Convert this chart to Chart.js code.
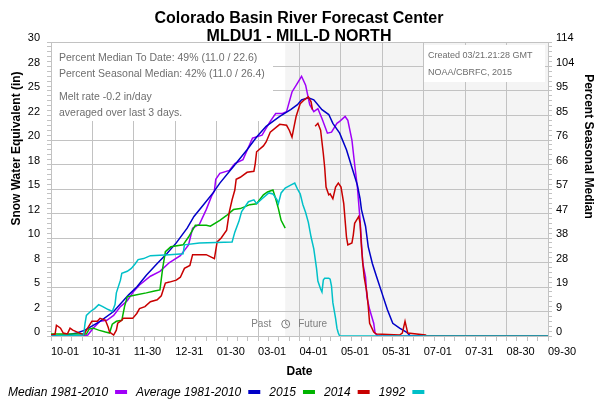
<!DOCTYPE html>
<html>
<head>
<meta charset="utf-8">
<script src="https://cdn.jsdelivr.net/npm/chart.js@4.4.0/dist/chart.umd.min.js"></script>
<style>
html,body{margin:0;padding:0;background:#fff;}
#wrap{width:600px;height:400px;position:relative;}
</style>
</head>
<body>
<div id="wrap"><canvas id="c" width="600" height="400"></canvas></div>
<script>
// ---------- tick labels ----------
const xTickLabels = ['10-01','10-31','11-30','12-31','01-30','03-01','04-01','05-01','05-31','07-01','07-31','08-30','09-30'];
const yTickLabels = ['0','2','5','8','10','12','15','18','20','22','25','28','30'];
const rightTickLabels = ['0','9','19','28','38','47','57','66','76','85','95','104','114'];

// ---------- series (x = day of water year, 0 = Oct 1; y = SWE inches) ----------
const seriesNames = ['Median 1981-2010','Average 1981-2010','2015','2014','1992'];
const seriesColors = ['#a000f8','#0000c8','#00b400','#c80000','#00c0c8'];

const medianDays = [0,24,27,31,36,41,46,51,56,61,65,73,80,87,95,101,104,109,114,118,120,121,124,131,135,141,148,155,161,165,170,173,177,181,184,187,190,193,196,199,203,206,210,212,216,218,221,223,225,226,227,228,229,231,232,234,237,238,240,365];
const medianSWE  = [0,0,0.1,0.8,1.5,1.6,2.1,3.0,3.6,4.6,5.2,6.1,6.6,7.5,8.2,9.3,11.0,11.4,12.9,14.3,14.8,16.0,16.6,16.9,17.6,18.0,20.2,20.5,21.9,22.7,22.7,22.9,24.9,25.8,26.5,25.6,23.6,22.9,23.2,22.2,20.7,20.8,21.7,21.9,22.4,22.0,20.0,17.5,15.2,13.5,11.8,9.5,7.4,6.0,4.0,2.7,1.3,0.3,0,0];

const averageDays = [0,12,19,25,36,46,57,63,70,78,85,92,100,105,112,119,124,134,144,151,158,168,176,181,184,189,193,199,204,207,212,217,221,225,227,228,231,233,236,239,243,247,251,256,261,264,365];
const averageSWE  = [0,0.1,0.3,0.6,1.5,2.5,4.2,5.0,6.2,7.4,8.4,9.5,11.0,12.2,13.4,14.6,15.6,17.3,19.0,20.3,21.4,22.4,23.1,23.6,24.1,24.3,24.1,23.1,22.6,21.7,20.7,19.0,17.2,15.4,14.0,12.9,11.2,9.1,7.4,6.1,4.4,2.7,1.3,0.8,0.4,0,0];

const wy2015Days = [0,26,28,31,35,40,43,45,48,52,54,56,63,70,76,80,82,84,88,97,101,106,114,117,124,129,134,139,146,151,156,159,163,165,167,169,172];
const wy2015SWE  = [0.2,0.2,0.7,0.8,0.6,0.4,0.3,1.2,1.5,1.6,3.0,4.0,4.2,4.4,4.6,4.7,6.9,8.6,9.1,9.3,10.1,11.3,11.3,11.2,11.8,12.3,12.9,13.0,13.4,13.5,14.4,14.7,14.9,14.0,13.0,11.8,11.0];

const wy2014Days = [0,3,4,7,9,12,14,16,21,24,26,30,34,36,40,42,43,46,48,49,52,53,60,63,65,69,73,78,81,84,87,92,95,98,102,104,114,120,122,125,129,131,133,135,136,139,144,149,150,151,156,158,161,168,173,175,177,178,180,183,186,189,191,192,193,194,196,198,200,201,202,204,205,207,209,211,213,215,216,217,218,221,222,223,226,227,228,229,230,232,233,234,237,239,256,258,260,261,262,275,276,365];
const wy2014SWE  = [0.1,0.2,1.1,0.8,0.3,0.2,0.8,0.6,0.3,0.1,0.6,1.5,1.5,1.8,1.6,0.9,0.4,0.1,0.6,1.3,1.6,1.8,1.8,2.3,2.8,3.0,3.5,3.7,4.1,5.4,5.5,5.7,6.0,6.9,7.2,8.3,8.3,7.9,9.6,10.0,10.8,12.7,13.9,14.9,16.0,16.2,16.7,16.8,17.6,18.8,19.4,19.8,20.8,21.6,21.5,21.0,20.3,21.0,22.4,23.7,24.1,24.4,23.9,23.1,null,21.4,21.7,21.0,18.6,17.2,15.2,14.4,14.5,14.0,15.2,15.6,15.2,13.5,11.8,10.1,9.3,9.5,10.3,11.5,12.2,11.5,9.1,7.4,6.0,4.4,3.0,1.3,0.4,0.2,0.1,0.3,1.5,0.9,0.3,0.1,0,0];

const wy1992Days = [0,24,25,26,29,32,35,38,42,45,47,48,51,52,56,59,62,64,68,73,87,97,98,109,133,135,138,140,145,149,151,155,160,163,166,167,169,172,176,179,181,183,185,187,189,191,193,195,196,198,199,200,201,204,205,206,207,209,210,211,212,365];
const wy1992SWE  = [0,0.1,1.3,2.1,2.5,2.8,3.2,3.0,2.7,2.5,3.2,4.4,5.7,6.4,6.6,6.9,7.4,7.8,7.9,8.2,8.3,8.4,9.3,9.5,9.6,10.6,11.7,12.7,13.7,13.9,13.5,14.0,14.6,14.5,13.9,13.5,14.6,15.1,15.4,15.6,15.0,14.5,13.4,12.6,11.6,10.1,8.9,6.9,5.6,4.8,4.5,5.7,5.9,5.9,5.8,5.1,3.4,1.8,0.8,0.3,0,0];

const forecastDay = 172; // 03/21 : Past | Future boundary

const infoLines = ['Percent Median To Date: 49% (11.0 / 22.6)','Percent Seasonal Median: 42% (11.0 / 26.4)','Melt rate -0.2 in/day','averaged over last 3 days.'];
const creditLines = ['Created 03/21.21:28 GMT','NOAA/CBRFC, 2015'];
const titleLines = ['Colorado Basin River Forecast Center','MLDU1 - MILL-D NORTH'];

// ---------- build datasets ----------
const FAM = '"Liberation Sans", Arial, Helvetica, sans-serif';
function pts(days, vals){ return days.map((d,i)=>({x:d, y:vals[i]})); }
const seriesData = [pts(medianDays,medianSWE), pts(averageDays,averageSWE), pts(wy2015Days,wy2015SWE), pts(wy2014Days,wy2014SWE), pts(wy1992Days,wy1992SWE)];
const drawOrder = [5,4,3,2,1];
const datasets = seriesData.map((d,i)=>({
  label: seriesNames[i], data: d, borderColor: seriesColors[i], backgroundColor: seriesColors[i],
  borderWidth: 1.5, pointRadius: 0, fill: false, tension: 0, spanGaps: false, order: drawOrder[i]
}));

const GRID = '#c2c2c2';

const decor = {
  id: 'decor',
  beforeDraw(chart){
    const {ctx, chartArea: a, scales:{x}} = chart;
    ctx.save();
    ctx.fillStyle = '#fff';
    ctx.fillRect(0,0,chart.width,chart.height);
    const fx = x.getPixelForValue(forecastDay);
    ctx.fillStyle = '#f4f4f4';
    ctx.fillRect(fx, a.top, a.right - fx, a.bottom - a.top);
    // title
    ctx.fillStyle = '#000';
    ctx.font = 'bold 16px ' + FAM;
    ctx.textAlign = 'center';
    ctx.textBaseline = 'alphabetic';
    ctx.fillText(titleLines[0], 299, 22.5);
    ctx.fillText(titleLines[1], 299, 40.5);
    ctx.restore();
  },
  beforeDatasetsDraw(chart){
    const {ctx, chartArea: a, scales:{x}} = chart;
    ctx.save();
    // info boxes
    ctx.fillStyle = '#fff';
    ctx.fillRect(a.left + 1, a.top + 1, 221, 78);
    ctx.fillRect(424, a.top + 3, 121, 37);
    ctx.fillStyle = '#6e6e6e';
    ctx.textAlign = 'left';
    ctx.textBaseline = 'middle';
    ctx.font = '10.5px ' + FAM;
    const ly = [58, 74.5, 97.5, 113];
    infoLines.forEach((t,i)=>ctx.fillText(t, 59, ly[i]));
    ctx.font = '9px ' + FAM;
    ctx.fillText(creditLines[0], 428, 56);
    ctx.fillText(creditLines[1], 428, 72.5);
    // past / future
    const fx = x.getPixelForValue(forecastDay);
    const cy = a.bottom - 12;
    ctx.fillStyle = '#808080';
    ctx.font = '10px ' + FAM;
    ctx.textAlign = 'right';
    ctx.fillText('Past', fx - 14, cy);
    ctx.textAlign = 'left';
    ctx.fillText('Future', fx + 13, cy);
    ctx.strokeStyle = '#808080';
    ctx.lineWidth = 1;
    ctx.beginPath();
    ctx.arc(fx + 0.5, cy, 4, 0, Math.PI*2);
    ctx.stroke();
    ctx.beginPath();
    ctx.moveTo(fx + 0.5, cy - 3);
    ctx.lineTo(fx + 0.5, cy);
    ctx.lineTo(fx + 2.5, cy + 1);
    ctx.stroke();
    ctx.restore();
  },
  afterDraw(chart){
    const {ctx} = chart;
    ctx.save();
    // axis titles
    ctx.fillStyle = '#000';
    ctx.font = 'bold 12px ' + FAM;
    ctx.textAlign = 'center';
    ctx.textBaseline = 'middle';
    ctx.save();
    ctx.translate(17, 148.5);
    ctx.rotate(-Math.PI/2);
    ctx.fillText('Snow Water Equivalent (in)', 0, 0);
    ctx.restore();
    ctx.save();
    ctx.translate(588, 146.5);
    ctx.rotate(Math.PI/2);
    ctx.fillText('Percent Seasonal Median', 0, 0);
    ctx.restore();
    // legend: label then marker
    ctx.font = 'italic 12px ' + FAM;
    ctx.textAlign = 'left';
    ctx.textBaseline = 'alphabetic';
    let lx = 8;
    seriesNames.forEach((n,i)=>{
      ctx.fillStyle = '#000';
      ctx.fillText(n, lx, 396);
      lx += ctx.measureText(n).width + 7;
      ctx.fillStyle = seriesColors[i];
      ctx.fillRect(lx, 390, 12, 4);
      lx += 12 + 9;
    });
    ctx.restore();
  }
};

const xTicks = s => { s.ticks = []; for (let i = 0; i <= 48; i++) s.ticks.push({value: i*365/48}); };
const yTicks = s => { s.ticks = []; for (let i = 0; i <= 60; i++) s.ticks.push({value: i*0.5}); };

new Chart(document.getElementById('c'), {
  type: 'line',
  data: { datasets },
  plugins: [decor],
  options: {
    responsive: false, animation: false, devicePixelRatio: 1,
    layout: { padding: { top: 42, left: 0, right: 0, bottom: 0 } },
    plugins: { legend: {display:false}, tooltip: {enabled:false}, title: {display:false} },
    scales: {
      x: {
        type: 'linear', position: 'bottom', min: 0, max: 365,
        afterBuildTicks: xTicks,
        afterFit: s => { s.height = 64; },
        ticks: { autoSkip:false, maxRotation:0, minRotation:0, align:'start', padding:4, color:'#000',
          font:{family:FAM, size:11}, callback:(v,i)=> i%4===0 ? xTickLabels[i/4] : '' },
        grid: { color: c => c.index%4===0 ? GRID : 'rgba(0,0,0,0)', tickColor: GRID, tickLength:5, lineWidth:1 },
        border: { color: GRID, width:1 },
        title: { display:true, text:'Date', color:'#000', font:{family:FAM, size:12, weight:'bold'}, padding:{top:0, bottom:21} }
      },
      y: {
        type: 'linear', position: 'left', min: 0, max: 30,
        afterBuildTicks: yTicks,
        afterFit: s => { s.width = 51; },
        ticks: { autoSkip:false, padding:7, labelOffset:-4, color:'#000', font:{family:FAM, size:11},
          callback:(v,i)=> i%5===0 ? yTickLabels[i/5] : '' },
        grid: { color: c => c.index%5===0 ? GRID : 'rgba(0,0,0,0)', tickColor: GRID, tickLength:4, lineWidth:1 },
        border: { color: GRID, width:1 }
      },
      y2: {
        type: 'linear', position: 'right', min: 0, max: 30,
        afterBuildTicks: yTicks,
        afterFit: s => { s.width = 52; },
        ticks: { autoSkip:false, padding:4, labelOffset:-4, color:'#000', font:{family:FAM, size:11},
          callback:(v,i)=> i%5===0 ? rightTickLabels[i/5] : '' },
        grid: { drawOnChartArea:false, tickColor: GRID, tickLength:4, lineWidth:1 },
        border: { color: GRID, width:1 }
      }
    }
  }
});
</script>
</body>
</html>
